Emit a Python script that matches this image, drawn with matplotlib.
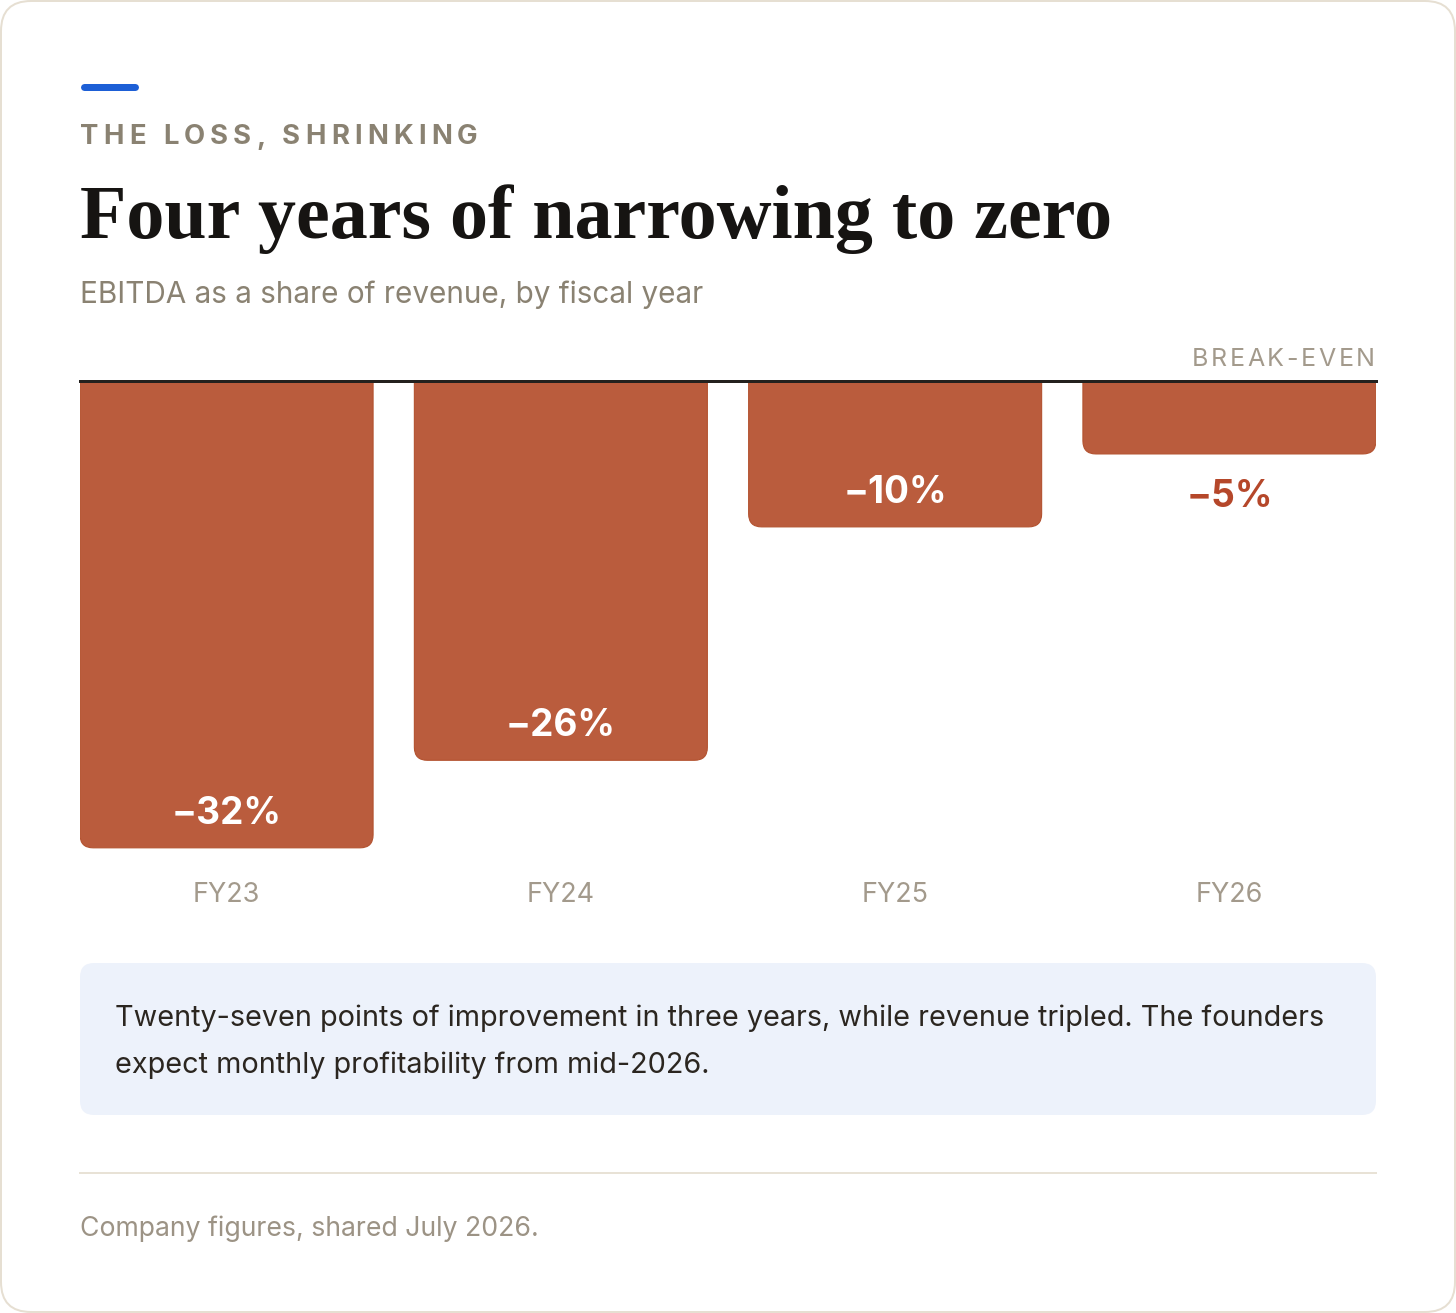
import matplotlib
matplotlib.use("Agg")
import matplotlib.pyplot as plt
from matplotlib.patches import FancyBboxPatch, PathPatch
from matplotlib.path import Path
from matplotlib import font_manager
from matplotlib.ft2font import FT2Font

# data
years = ["FY23", "FY24", "FY25", "FY26"]
ebitda_margin = [-32, -26, -10, -5]
value_labels = ["\u221232%", "\u221226%", "\u221210%", "\u22125%"]

W, H = 1456, 1313
DPI = 100
PT = 72 / DPI  # px -> pt

bar_color = "#BA5C3D"
muted = "#8A8272"
light_muted = "#A39A8C"

fig = plt.figure(figsize=(W / DPI, H / DPI), dpi=DPI)
fig.patch.set_facecolor("white")

# background axes in pixel coordinates
bg = fig.add_axes([0, 0, 1, 1])
bg.set_xlim(0, W)
bg.set_ylim(H, 0)
bg.axis("off")


def advance_widths(s, family, weight, size_px):
    path = font_manager.findfont(font_manager.FontProperties(family=family, weight=weight))
    f = FT2Font(path, hinting_factor=1)
    f.set_size(size_px * PT, DPI)
    return [f.load_char(ord(ch)).horiAdvance / 64 for ch in s]


def spaced_text(x, y, s, size_px, target_w, family="Inter", weight="normal",
                ha="left", **kw):
    # letter-spaced text, stretched to a given total width
    adv = advance_widths(s, family, weight, size_px)
    sp = (target_w - sum(adv)) / (len(s) - 1)
    if ha == "right":
        x = x - target_w
    cx = x
    for ch, a in zip(s, adv):
        bg.text(cx, y, ch, fontsize=size_px * PT, family=family, weight=weight,
                ha="left", va="center", **kw)
        cx += a + sp


# card
bg.add_patch(FancyBboxPatch((31, 31), W - 62, H - 62,
                            boxstyle="round,pad=30,rounding_size=30",
                            facecolor="white", edgecolor="#E6DFD2", linewidth=2 * PT))

# accent bar
bg.plot([83.5, 134.5], [86.5, 86.5], color="#1D5FD6", lw=7 * PT, solid_capstyle="round")

# kicker
spaced_text(80, 137, "THE LOSS, SHRINKING", 27.5, 397, weight="bold", color=muted)

# title
bg.text(80, 219, "Four years of narrowing to zero", fontsize=76 * PT,
        family="Liberation Serif", weight="bold", color="#161412", ha="left", va="center")

# subtitle
bg.text(80, 295, "EBITDA as a share of revenue, by fiscal year", fontsize=29.7 * PT,
        family="Inter", color=muted, ha="left", va="center")

# break-even label
spaced_text(1374, 360, "BREAK-EVEN", 25, 182, color=light_muted, ha="right")

# chart axes
zero_y, bottom_y = 381, 877
ax = fig.add_axes([80 / W, (H - bottom_y) / H, (1376 - 80) / W, (bottom_y - zero_y) / H])
ax.patch.set_alpha(0)
ax.axis("off")
ax.set_ylim(-34, 0)
ax.set_xlim(-0.4385, 3.4385)
px_x = (1376 - 80) / 3.877
px_y = (bottom_y - zero_y) / 34

bar_w = 293 / px_x
r_px = 13
rx, ry = r_px / px_x, r_px / px_y

for i, v in enumerate(ebitda_margin):
    x0, x1 = i - bar_w / 2, i + bar_w / 2
    verts = [(x0, 0), (x0, v + ry), (x0, v), (x0 + rx, v), (x1 - rx, v),
             (x1, v), (x1, v + ry), (x1, 0), (x0, 0)]
    codes = [Path.MOVETO, Path.LINETO, Path.CURVE3, Path.CURVE3, Path.LINETO,
             Path.CURVE3, Path.CURVE3, Path.LINETO, Path.CLOSEPOLY]
    ax.add_patch(PathPatch(Path(verts, codes), facecolor=bar_color,
                           edgecolor="#B3522F", lw=0.8, zorder=2))
    if abs(v) > 8:
        ax.text(i, v + 34 / px_y, value_labels[i], ha="center", va="center",
                fontsize=37 * PT, family="Inter", weight="bold", color="white", zorder=3)
    else:
        ax.text(i, v - 43 / px_y, value_labels[i], ha="center", va="center",
                fontsize=37 * PT, family="Inter", weight="bold", color="#B5472A", zorder=3)
    ax.text(i, -34 - 18 / px_y, years[i], ha="center", va="center",
            fontsize=27 * PT, family="Inter", color=light_muted, clip_on=False)

ax.axhline(0, color="#24211E", lw=3 * PT, zorder=4, clip_on=False)

# note box
bg.add_patch(FancyBboxPatch((94, 977), 1376 - 80 - 28, 1115 - 963 - 28,
                            boxstyle="round,pad=14,rounding_size=14",
                            facecolor="#EDF2FB", edgecolor="none"))
bg.text(115, 1018, "Twenty-seven points of improvement in three years, while revenue tripled. The founders",
        fontsize=28.8 * PT, family="Inter", color="#2B2620", ha="left", va="center")
bg.text(115, 1065, "expect monthly profitability from mid-2026.",
        fontsize=28.8 * PT, family="Inter", color="#2B2620", ha="left", va="center")

# separator + footer
bg.plot([80, 1376], [1173, 1173], color="#E8E2D6", lw=2 * PT)
bg.text(80, 1229, "Company figures, shared July 2026.", fontsize=26.7 * PT,
        family="Inter", color="#9C9385", ha="left", va="center")

fig.savefig("out.png", dpi=DPI, facecolor="white")
